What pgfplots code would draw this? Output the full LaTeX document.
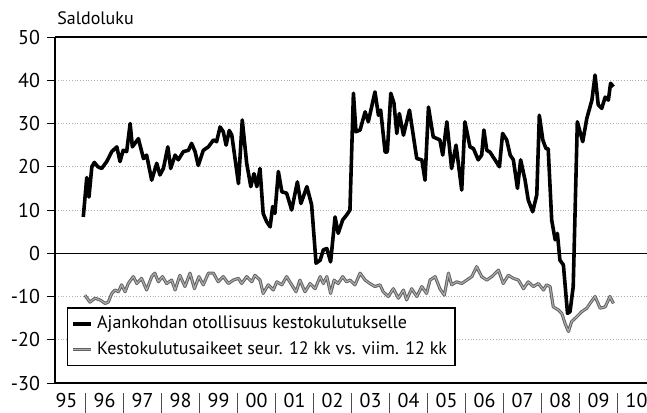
\documentclass[border=0pt]{standalone}
\usepackage{fontspec}
\setmainfont{PT Sans}
\usepackage{pgfplots}
\pgfplotsset{compat=1.18}
\newcommand{\sep}{\textcolor{black!70}{\rule[-3bp]{0.4bp}{12.5bp}}}
\begin{document}
\begin{tikzpicture}
\begin{axis}[
  scale only axis,
  width=296bp, height=173bp,
  xmin=2.37, xmax=189.3,
  ymin=-30, ymax=50,
  axis x line=box, axis y line=left,
  axis line style={-, line width=0.6bp},
  every tick/.style={black, line width=0.5bp},
  ytick={-30,-20,-10,0,10,20,30,40,50},
  yticklabels={-30,-20,-10,0,10,20,30,40,50},
  ytick align=outside, major tick length=4bp,
  ymajorgrids,
  major grid style={densely dotted, black!30, line width=0.4bp},
  xtick={6,18,30,42,54,66,78,90,102,114,126,138,150,162,174,186},
  xticklabels={95,96,97,98,99,00,01,02,03,04,05,06,07,08,09,10},
  xtick style={draw=none},
  xticklabel style={yshift=-1.5bp},
  extra x ticks={12,24,36,48,60,72,84,96,108,120,132,144,156,168,180},
  extra x tick labels={\sep,\sep,\sep,\sep,\sep,\sep,\sep,\sep,\sep,\sep,\sep,\sep,\sep,\sep,\sep},
  extra x tick style={xtick style={draw=none}, xmajorgrids=false},
  extra y ticks={0},
  extra y tick labels={},
  extra y tick style={ymajorgrids=true, major grid style={solid, black, line width=0.6bp}, ytick style={draw=none}},
  tick label style={font=\fontsize{10bp}{11bp}\selectfont},
  legend style={at={(0.0203,0.049)}, anchor=south west, draw=black, line width=0.6bp, fill=white,
    font=\fontsize{9bp}{11bp}\selectfont, inner xsep=2bp, inner ysep=2bp, row sep=1bp, cells={anchor=west}},
  legend image code/.code={\draw[#1] (0bp,0bp) -- (9bp,0bp);},
  reverse legend,
  clip=false,
]
\addplot[draw=black!62, double=black!32, double distance=0.55bp, line width=0.5bp, line join=round] coordinates {
(11.8,-9.7) (13.4,-11.3) (15.0,-10.4) (16.6,-10.8) (18.2,-11.6) (19.2,-11.3) (20.3,-9.3) (21.3,-8.5)
(22.4,-8.9) (23.4,-7.3) (24.5,-8.9) (25.5,-7.0) (27.1,-5.4) (28.2,-7.0) (29.7,-5.8) (31.3,-8.5)
(32.9,-5.4) (33.9,-4.6) (35.0,-6.6) (36.3,-5.4) (37.6,-7.0) (39.2,-6.2) (40.3,-8.5) (41.8,-5.1)
(43.4,-7.7) (45.0,-4.6) (46.4,-8.2) (47.8,-5.4) (49.2,-7.3) (50.8,-4.6) (52.4,-4.6) (53.9,-6.6)
(55.5,-5.4) (57.1,-7.0) (58.7,-6.2) (60.3,-5.8) (61.3,-7.0) (62.9,-5.4) (64.5,-6.6) (65.5,-5.1)
(67.1,-6.2) (68.1,-9.3) (69.7,-7.3) (71.3,-8.5) (72.4,-6.6) (74.0,-7.3) (75.5,-5.4) (77.1,-7.3)
(78.5,-8.9) (79.7,-6.2) (81.3,-8.9) (82.9,-7.0) (84.5,-8.2) (86.1,-5.4) (87.1,-7.0) (88.2,-5.4)
(89.4,-9.3) (90.5,-6.2) (91.8,-7.0) (93.2,-5.4) (94.4,-6.6) (95.5,-6.2) (97.1,-7.3) (98.7,-4.6)
(100.3,-6.2) (101.8,-7.0) (103.4,-7.7) (105.0,-7.3) (106.0,-8.9) (107.6,-10.0) (109.2,-8.2) (110.8,-10.4)
(112.4,-8.5) (113.4,-10.8) (115.0,-8.2) (116.6,-10.0) (118.2,-7.7) (119.7,-9.3) (120.8,-6.2) (122.4,-5.4)
(123.9,-8.2) (125.3,-9.7) (126.6,-4.6) (127.6,-7.3) (129.2,-6.6) (130.8,-7.0) (132.4,-6.2) (134.0,-5.4)
(135.5,-3.1) (137.1,-5.4) (138.7,-6.2) (140.3,-5.4) (142.4,-3.9) (143.9,-7.0) (145.5,-5.1) (147.1,-5.8)
(148.7,-6.2) (150.3,-8.2) (151.8,-6.6) (153.4,-7.7) (155.0,-7.0) (156.6,-8.5) (157.6,-7.3) (158.7,-7.7)
(159.7,-12.4) (161.3,-13.1) (162.4,-13.9) (163.4,-16.2) (164.5,-18.1) (165.5,-15.8) (167.1,-14.7) (168.7,-13.5)
(170.3,-12.7) (171.3,-11.6) (172.9,-10.0) (174.5,-12.7) (176.1,-12.4) (177.6,-10.0) (178.7,-11.6)
};
\addlegendentry{Kestokulutusaikeet seur. 12 kk vs. viim. 12 kk}
\addplot[black, line width=1.8bp, line join=round] coordinates {
(11.3,8.4) (12.4,17.5) (13.1,13.0) (14.0,20.0) (14.8,21.0) (15.9,20.0) (17.1,19.6) (18.7,21.2)
(20.3,23.5) (21.9,24.6) (22.9,21.2) (23.9,23.8) (25.0,23.5) (26.1,30.0) (26.8,24.6) (28.7,26.5)
(30.3,21.9) (31.3,22.7) (32.9,16.9) (34.5,20.8) (35.5,18.1) (36.6,19.6) (38.0,24.6) (38.9,19.6)
(40.3,22.7) (41.3,21.6) (42.9,23.5) (44.5,23.8) (45.5,25.4) (46.6,23.5) (47.6,20.3) (49.2,23.8)
(50.8,24.6) (52.4,26.2) (53.4,25.8) (54.5,29.2) (55.5,28.1) (56.4,25.0) (57.4,28.4) (58.2,27.3)
(60.3,16.1) (61.5,30.8) (62.9,20.8) (64.2,15.4) (65.2,18.4) (66.1,15.4) (67.1,19.6) (68.1,9.2)
(69.2,7.3) (70.3,6.1) (71.1,10.8) (71.8,9.2) (72.9,18.9) (74.0,14.2) (75.5,13.9) (77.1,10.0)
(78.9,16.5) (80.0,11.5) (80.8,13.1) (81.9,15.4) (83.4,11.2) (84.8,-2.3) (86.1,-1.6) (87.1,0.8)
(88.2,1.1) (89.4,-2.0) (90.8,8.4) (91.8,4.6) (93.2,7.7) (94.4,8.8) (95.5,10.0) (96.6,37.0)
(97.4,28.1) (98.7,28.5) (100.3,32.7) (101.3,30.4) (103.4,37.3) (104.5,31.9) (105.2,33.1) (106.6,23.4)
(107.3,23.4) (108.4,37.0) (109.4,34.7) (110.3,27.7) (111.1,32.3) (112.4,27.3) (114.3,33.1) (116.6,21.9)
(118.2,21.6) (119.2,16.9) (120.3,33.8) (121.8,26.9) (123.9,26.2) (124.8,22.7) (126.1,30.4) (127.6,19.6)
(129.0,25.0) (130.8,14.6) (131.8,30.4) (133.4,24.6) (134.5,24.2) (136.0,21.6) (137.1,22.7) (137.8,28.5)
(138.7,23.8) (139.7,23.4) (141.3,21.6) (142.7,20.0) (143.7,27.7) (145.0,26.2) (146.1,22.7) (147.1,21.6)
(148.4,15.0) (149.4,21.6) (150.8,16.9) (151.8,12.3) (153.2,9.6) (154.5,13.5) (155.3,31.9) (156.4,26.2)
(157.4,24.2) (158.1,24.2) (159.2,7.7) (160.3,3.1) (161.0,4.6) (161.8,-1.6) (162.9,-2.7) (164.2,-13.9)
(165.0,-13.5) (166.0,-7.7) (167.3,30.4) (169.0,25.8) (170.3,31.2) (171.9,35.4) (172.9,41.2) (173.9,34.3)
(175.0,33.5) (176.1,36.1) (177.1,35.4) (177.8,39.3) (178.7,38.5)
};
\addlegendentry{Ajankohdan otollisuus kestokulutukselle}
\node[anchor=base west, font=\fontsize{9bp}{11bp}\selectfont, inner sep=0pt] at ([xshift=1bp, yshift=6.5bp]rel axis cs:0,1) {Saldoluku};
\end{axis}
\pgfresetboundingbox
\path ([xshift=-27.5bp,yshift=-15bp]current axis.south west) rectangle ([yshift=18.5bp]current axis.north east);
\end{tikzpicture}
\end{document}
